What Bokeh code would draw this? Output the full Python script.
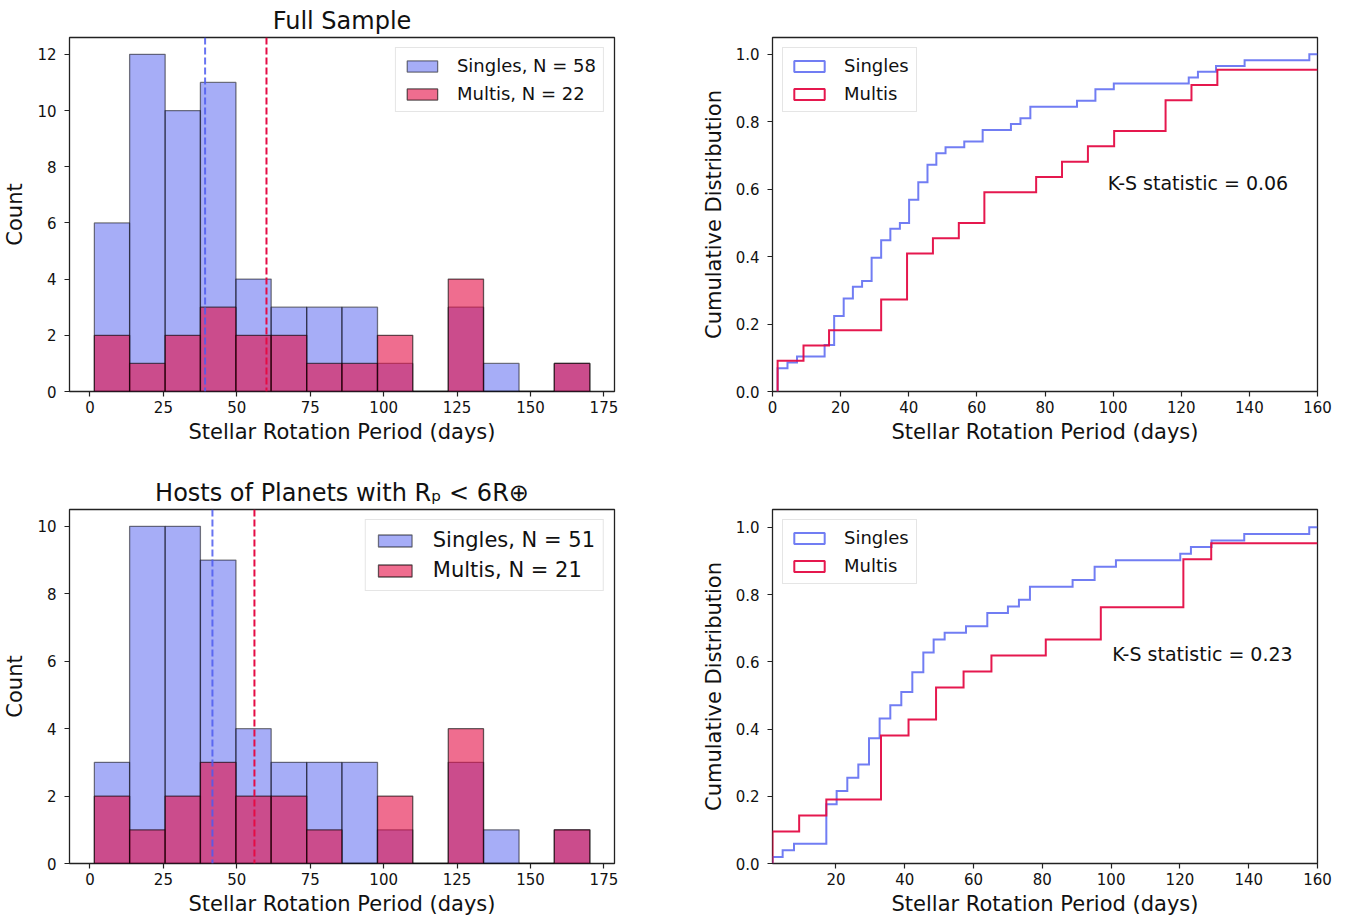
from bokeh.plotting import figure
from bokeh.models import (Range1d, FixedTicker, Span, Label, Legend, LegendItem,
                          ColumnDataSource, NumeralTickFormatter)
from bokeh.layouts import row, column
from bokeh.embed import file_html
from bokeh.resources import INLINE

FONT = "DejaVu Sans"

# ---------------- data ----------------
bin_edges = [1.5, 13.5, 25.6, 37.6, 49.7, 61.7, 73.8, 85.8, 97.9, 109.9, 122.0, 134.0, 146.1, 158.1, 170.2]
full_singles_counts = [6, 12, 10, 11, 4, 3, 3, 3, 1, 0, 3, 1, 0, 1]
full_multis_counts = [2, 1, 2, 3, 2, 2, 1, 1, 2, 0, 4, 0, 0, 1]
small_singles_counts = [3, 10, 10, 9, 4, 3, 3, 3, 1, 0, 3, 1, 0, 1]
small_multis_counts = [2, 1, 2, 3, 2, 2, 1, 0, 2, 0, 4, 0, 0, 1]

full_singles_mark = 39.2
full_multis_mark = 60.1
small_singles_mark = 41.7
small_multis_mark = 56.0

n_full_singles, n_full_multis = 58, 22
n_small_singles, n_small_multis = 51, 21

full_singles_cdf_x = [1.5, 4.4, 7.2, 15.3, 18.1, 20.9, 23.6, 26.3, 29.1, 31.9, 34.6, 37.4, 40.1, 42.8,
                      45.5, 48.1, 50.8, 56.3, 61.7, 70.0, 72.8, 75.7, 89.4, 94.8, 100.2, 122.2, 124.9,
                      130.2, 138.6, 157.6]
full_singles_cdf_n = [4, 5, 6, 8, 13, 16, 18, 19, 23, 26, 28, 29, 33, 36, 39, 41, 42, 43, 45, 46, 47,
                      49, 50, 52, 53, 54, 55, 56, 57, 58]
full_multis_cdf_x = [1.5, 9.1, 16.6, 31.9, 39.5, 47.1, 54.7, 62.2, 77.4, 85.0, 92.6, 100.3, 115.4, 123.0, 130.6]
full_multis_cdf_n = [2, 3, 4, 6, 9, 10, 11, 13, 14, 15, 16, 17, 19, 20, 21]

small_singles_cdf_x = [1.55, 4.5, 7.8, 17.2, 20.2, 23.3, 26.5, 29.6, 32.7, 35.8, 39.0, 42.2, 45.4, 48.4,
                       51.6, 57.8, 64.0, 70.0, 73.2, 76.4, 88.8, 95.2, 101.4, 120.1, 123.2, 129.2,
                       138.7, 157.6]
small_singles_cdf_n = [1, 2, 3, 9, 11, 13, 15, 19, 22, 24, 26, 29, 32, 34, 35, 36, 38, 39, 40, 42, 43,
                       45, 46, 47, 48, 49, 50, 51]
small_multis_cdf_x = [1.55, 9.3, 17.2, 33.1, 41.1, 49.1, 57.1, 65.2, 81.0, 97.0, 121.0, 129.1]
small_multis_cdf_n = [2, 3, 4, 8, 9, 11, 12, 13, 14, 16, 19, 20]

ks_full = "K-S statistic = 0.06"
ks_small = "K-S statistic = 0.23"

hist_xticks = [0, 25, 50, 75, 100, 125, 150, 175]
full_yticks = [0, 2, 4, 6, 8, 10, 12]
small_yticks = [0, 2, 4, 6, 8, 10]
cdf_xticks_full = [0, 20, 40, 60, 80, 100, 120, 140, 160]
cdf_xticks_small = [20, 40, 60, 80, 100, 120, 140, 160]
cdf_yticks = [0.0, 0.2, 0.4, 0.6, 0.8, 1.0]

SINGLES = "#4d5cf0"
MULTIS = "#e40c45"
XLABEL = "Stellar Rotation Period (days)"
NAN = float("nan")


def make_fig(width, height, xr, yr, bl, br, bt, bb, title=None, title_standoff=5):
    p = figure(width=width, height=height, x_range=Range1d(*xr), y_range=Range1d(*yr),
               output_backend="svg", toolbar_location=None,
               min_border_left=bl, min_border_right=br, min_border_top=bt, min_border_bottom=bb)
    p.xgrid.visible = False
    p.ygrid.visible = False
    p.outline_line_color = "#222222"
    p.outline_line_width = 1.3
    p.outline_line_alpha = 1.0
    p.background_fill_color = "white"
    p.border_fill_color = "white"
    for ax in (p.xaxis[0], p.yaxis[0]):
        ax.axis_line_color = None
        ax.major_tick_in = 0
        ax.major_tick_out = 5
        ax.minor_tick_in = 0
        ax.minor_tick_out = 0
        ax.major_tick_line_color = "#222222"
        ax.major_tick_line_width = 1.2
        ax.major_label_text_font = FONT
        ax.major_label_text_font_size = "15px"
        ax.major_label_text_color = "#111111"
        ax.axis_label_text_font = FONT
        ax.axis_label_text_font_size = "21px"
        ax.axis_label_text_font_style = "normal"
        ax.axis_label_text_color = "#111111"
    p.yaxis[0].major_label_standoff = 8
    p.yaxis[0].axis_label_standoff = 7
    p.xaxis[0].major_label_standoff = 4
    p.xaxis[0].axis_label_standoff = 4
    if title:
        p.title.text = title
        p.title.text_font = FONT
        p.title.text_font_size = "24px"
        p.title.text_font_style = "normal"
        p.title.text_color = "#111111"
        p.title.align = "center"
        p.title.standoff = title_standoff
    return p


def style_legend(leg, big):
    leg.label_text_font = FONT
    leg.label_text_font_size = "21px" if big else "18px"
    leg.label_text_color = "#111111"
    leg.glyph_width = 42 if big else 38
    leg.glyph_height = 15 if big else 14
    leg.label_height = 24 if big else 21
    leg.label_standoff = 17 if big else 16
    leg.padding = 8 if big else 7
    leg.spacing = 6 if big else 7
    leg.margin = 10
    leg.border_line_color = "#cccccc"
    leg.border_line_width = 1
    leg.background_fill_alpha = 0.8


def hist_panel(p, s_counts, m_counts, s_mark, m_mark, ns, nm, big_legend):
    left = bin_edges[:-1]
    right = bin_edges[1:]
    rs = p.quad(left=left, right=right, bottom=[0] * len(s_counts), top=s_counts,
                fill_color=SINGLES, fill_alpha=0.5, line_color="black", line_alpha=0.5, line_width=1.3)
    rm = p.quad(left=left, right=right, bottom=[0] * len(m_counts), top=m_counts,
                fill_color=MULTIS, fill_alpha=0.6, line_color="black", line_alpha=0.6, line_width=1.3)
    p.add_layout(Span(location=s_mark, dimension="height", line_color=SINGLES, line_alpha=0.85,
                      line_dash="7 3", line_width=2))
    p.add_layout(Span(location=m_mark, dimension="height", line_color=MULTIS, line_alpha=1.0,
                      line_dash="7 3", line_width=2))
    leg = Legend(items=[LegendItem(label=f"Singles, N = {ns}", renderers=[rs]),
                        LegendItem(label=f"Multis, N = {nm}", renderers=[rm])],
                 location="top_right")
    style_legend(leg, big_legend)
    p.add_layout(leg)
    p.xaxis[0].ticker = FixedTicker(ticks=hist_xticks)
    p.xaxis[0].axis_label = XLABEL
    p.yaxis[0].axis_label = "Count"


def step_path(xs, counts, n, x_end):
    px = [xs[0]]
    py = [0.0]
    for i in range(len(xs)):
        v = counts[i] / n
        nxt = xs[i + 1] if i + 1 < len(xs) else x_end
        px += [xs[i], nxt]
        py += [v, v]
    return px, py


def cdf_panel(p, sx, sn, ns, mx, mn, nm, ks_text, ks_x, ks_y, x_end, xticks):
    px, py = step_path(sx, sn, ns, x_end)
    p.line(px, py, line_color=SINGLES, line_alpha=0.8, line_width=2, line_join="miter")
    px, py = step_path(mx, mn, nm, x_end)
    p.line(px, py, line_color=MULTIS, line_alpha=0.95, line_width=2, line_join="miter")
    # legend-only handles (hollow boxes, as in a step histogram legend)
    ls = p.quad(left=[NAN], right=[NAN], top=[NAN], bottom=[NAN], fill_alpha=0,
                line_color=SINGLES, line_alpha=0.8, line_width=2)
    lm = p.quad(left=[NAN], right=[NAN], top=[NAN], bottom=[NAN], fill_alpha=0,
                line_color=MULTIS, line_alpha=0.95, line_width=2)
    leg = Legend(items=[LegendItem(label="Singles", renderers=[ls]),
                        LegendItem(label="Multis", renderers=[lm])],
                 location="top_left")
    style_legend(leg, False)
    p.add_layout(leg)
    p.add_layout(Label(x=ks_x, y=ks_y, text=ks_text, text_font=FONT, text_font_size="19px",
                       text_color="#111111", text_baseline="middle", text_align="left"))
    p.xaxis[0].ticker = FixedTicker(ticks=xticks)
    p.yaxis[0].ticker = FixedTicker(ticks=cdf_yticks)
    p.yaxis[0].formatter = NumeralTickFormatter(format="0.0")
    p.xaxis[0].axis_label = XLABEL
    p.yaxis[0].axis_label = "Cumulative Distribution"


# ---------------- panels ----------------
BL_L, BR_L = 69, 63
BL_R, BR_R = 95, 40
FRAME_W = 545
W_L = BL_L + FRAME_W + BR_L
W_R = BL_R + FRAME_W + BR_R
T1, B1, T2, B2 = 37, 59, 59, 58
FRAME_H = 354
H_T = T1 + FRAME_H + B1
H_B = T2 + FRAME_H + B2

p1 = make_fig(W_L, H_T, (-6.97, 178.6), (0, 12.6), BL_L, BR_L, T1, B1, title="Full Sample",
              title_standoff=5)
hist_panel(p1, full_singles_counts, full_multis_counts, full_singles_mark, full_multis_mark,
           n_full_singles, n_full_multis, False)
p1.yaxis[0].ticker = FixedTicker(ticks=full_yticks)

p2 = make_fig(W_R, H_T, (0, 160), (0, 1.05), BL_R, BR_R, T1, B1)
cdf_panel(p2, full_singles_cdf_x, full_singles_cdf_n, n_full_singles,
          full_multis_cdf_x, full_multis_cdf_n, n_full_multis, ks_full, 98.4, 0.618, 160,
          cdf_xticks_full)

p3 = make_fig(W_L, H_B, (-6.97, 178.6), (0, 10.5), BL_L, BR_L, T2, B2,
              title="Hosts of Planets with Rₚ < 6R⊕", title_standoff=5)
hist_panel(p3, small_singles_counts, small_multis_counts, small_singles_mark, small_multis_mark,
           n_small_singles, n_small_multis, True)
p3.yaxis[0].ticker = FixedTicker(ticks=small_yticks)

p4 = make_fig(W_R, H_B, (1.55, 160), (0, 1.053), BL_R, BR_R, T2, B2)
cdf_panel(p4, small_singles_cdf_x, small_singles_cdf_n, n_small_singles,
          small_multis_cdf_x, small_multis_cdf_n, n_small_multis, ks_small, 100.3, 0.622, 160,
          cdf_xticks_small)

layout = column(row(p1, p2), row(p3, p4))

open("out.html", "w").write(file_html(layout, INLINE))
